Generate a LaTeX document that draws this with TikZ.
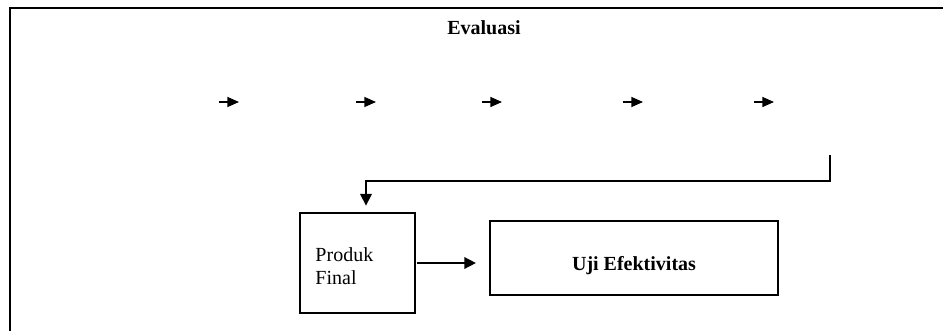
\documentclass[tikz,border=0pt]{standalone}
\usepackage{fontspec}
\setmainfont{Liberation Serif}
\usetikzlibrary{arrows.meta}
\tikzset{
	box/.style={
		draw,
		line width=0.9pt,
		inner sep=0pt
	},
	arr/.style={
		-{Triangle[length=7pt, width=7pt]},
		line width=0.9pt
	}
}

\begin{document}
\begin{tikzpicture}[x=0.6pt, y=-0.6pt, font=\fontsize{12pt}{13.5pt}\selectfont]
\useasboundingbox (0,0) rectangle (943,331);
\draw[line width=1.2pt] (943,8) -- (9.5,8) -- (9.5,331);
\node[font=\fontsize{12pt}{13.5pt}\selectfont\bfseries] (E) at (484,28) {Evaluasi};
\foreach \x [count=\i] in {219, 356, 482, 623, 754} {
	\coordinate (A\i) at (\x, 102);
	\coordinate (B\i) at (\x+20, 102);
	\draw[arr, -{Triangle[length=7pt, width=6pt]}] (A\i) -- (B\i);
}

\node[box, minimum width=69pt, minimum height=60pt, label={[anchor=west, xshift=6.2pt, yshift=-1.8pt, align=left]west:Produk\\Final}] (P) at (357.5,263) {};
\node[box, minimum width=172.8pt, minimum height=44.4pt, label={[yshift=-4.8pt]center:\textbf{Uji Efektivitas}}] (U) at (634,258) {};

\coordinate (R) at (830,155);
\coordinate (K) at (366,181);
\draw[arr, shorten >=4pt] (R) -- (R |- K) -- (K) -- (K |- P.north);
\draw[arr, shorten <=1pt, shorten >=8pt] (P.east) -- (P.east -| U.west);
\end{tikzpicture}
\end{document}
